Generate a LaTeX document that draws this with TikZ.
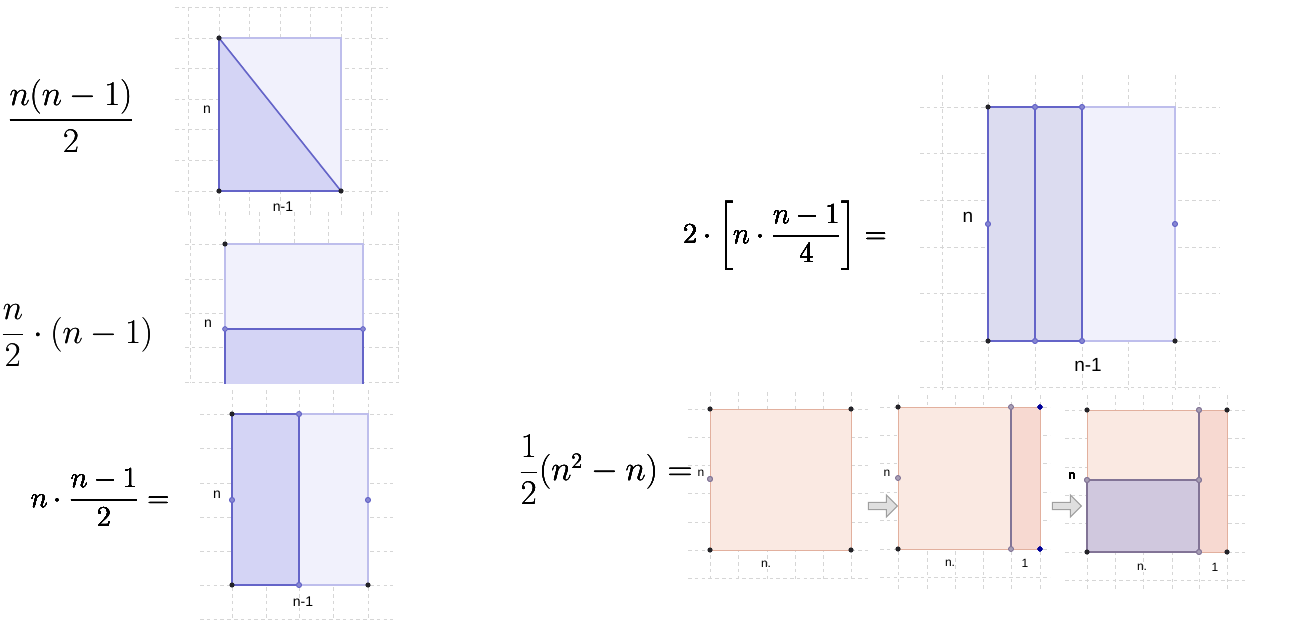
\documentclass[tikz,border=0pt]{standalone}
\usepackage{amsmath}
\usepackage{fontspec}
\usetikzlibrary{shapes.arrows}
\newfontfamily\lblfont{Liberation Sans}
\definecolor{gridgray}{RGB}{214,214,214}
\definecolor{ggpurple}{RGB}{100,100,200}
\definecolor{ggpale}{RGB}{241,241,252}
\definecolor{ggpaleline}{RGB}{190,190,236}
\definecolor{ggmid}{RGB}{212,212,245}
\definecolor{ggmidgray}{RGB}{220,220,240}
\definecolor{peach}{RGB}{250,233,226}
\definecolor{salmon}{RGB}{247,217,209}
\definecolor{peachline}{RGB}{226,176,158}
\definecolor{lavgray}{RGB}{208,200,222}
\definecolor{lavline}{RGB}{130,116,150}
\definecolor{dotblack}{RGB}{35,35,40}
\definecolor{dotpurple}{RGB}{135,135,210}
\tikzset{
  gridline/.style={draw=gridgray, line width=0.4pt, dash pattern=on 1.8pt off 1.6pt},
  palerect/.style={fill=ggpale, draw=ggpaleline, line width=0.6pt},
  midrect/.style={fill=ggmid, draw=ggpurple, line width=0.8pt},
  peachrect/.style={fill=peach, draw=peachline, line width=0.5pt},
  striprect/.style={fill=salmon, draw=peachline, line width=0.5pt},
  lavrect/.style={fill=lavgray, draw=lavline, line width=0.6pt},
  formula/.style={font=\fontsize{15}{18}\selectfont, inner sep=0pt},
  bigformula/.style={formula, font=\fontsize{16.5}{19}\selectfont},
  lbl/.style={font=\lblfont\fontsize{7}{8}\selectfont, inner sep=0pt},
  smalllbl/.style={font=\lblfont\fontsize{6}{7}\selectfont, inner sep=0pt},
  biglbl/.style={font=\lblfont\fontsize{9.5}{11}\selectfont, inner sep=0pt},
  blockarrow/.style={single arrow, draw=gray!75, fill=gray!25, line width=0.5pt,
    minimum height=14.5pt, minimum width=11pt, single arrow head extend=2.5pt, inner sep=1pt},
}
\newcommand{\kdot}[1]{\fill[dotblack] #1 circle[radius=1.3pt];}
\newcommand{\pdot}[1]{\filldraw[fill=dotpurple, draw=ggpurple, line width=0.4pt] #1 circle[radius=1.2pt];}
\newcommand{\gdot}[1]{\filldraw[fill=lavline!70, draw=lavline, line width=0.4pt] #1 circle[radius=1.2pt];}

\begin{document}
\begin{tikzpicture}[x=0.5pt, y=-0.5pt]
  \useasboundingbox (0,0) rectangle (1291,620);

  % left column, triangle
  \foreach \x in {188,219,249,280,310,341,371} \draw[gridline] (\x,7) -- (\x,215);
  \foreach \y in {7,38,68,99,129,160,191} \draw[gridline] (175,\y) -- (388,\y);
  \fill[palerect] (219,38) rectangle (341,191);
  \fill[midrect] (219,38) -- (219,191) -- (341,191) -- cycle;
  \foreach \p in {(219,38),(219,191),(341,191)} \kdot{\p}
  \node[bigformula] (fa) at (71,116) {$\dfrac{n(n-1)}{2}$};
  \node[lbl] (na) at (207,110) {n};
  \node[lbl] (ba) at (283,207) {n-1};

  % left column, half height
  \foreach \x in {190,225,259,294,328,363,398} \draw[gridline] (\x,212) -- (\x,383);
  \foreach \y in {244,279,313,347,382} \draw[gridline] (185,\y) -- (400,\y);
  \fill[palerect] (225,244) rectangle (363,329);
  \fill[ggmid] (225,329) rectangle (363,384);
  \draw[ggpurple, line width=0.8pt] (225,384) -- (225,329) -- (363,329) -- (363,384);
  \kdot{(225,244)}
  \foreach \p in {(225,329),(363,329)} \pdot{\p}
  \node[bigformula, anchor=west] (fb) at (0,336) {$\dfrac{n}{2}\cdot(n-1)$};
  \node[lbl] (nb) at (208,324) {n};

  % left column, half width
  \foreach \x in {232,266,299,333,368} \draw[gridline] (\x,390) -- (\x,620);
  \foreach \y in {414,448,483,517,551,585,619} \draw[gridline] (200,\y) -- (393,\y);
  \fill[palerect] (232,414) rectangle (368,585);
  \fill[midrect] (232,414) rectangle (299,585);
  \foreach \p in {(232,414),(232,585),(368,585)} \kdot{\p}
  \foreach \p in {(299,414),(299,585),(232,500),(368,500)} \pdot{\p}
  \node[formula] (fc) at (100,498) {$n\cdot\dfrac{n-1}{2}=$};
  \node[lbl] (nc) at (217,495) {n};
  \node[lbl] (bc) at (303,602) {n-1};

  % right, two quarter strips
  \foreach \x in {942,988,1035,1082,1128,1175} \draw[gridline] (\x,75) -- (\x,390);
  \foreach \y in {107,153,200,247,293,341,387} \draw[gridline] (920,\y) -- (1220,\y);
  \fill[palerect] (988,107) rectangle (1175,341);
  \fill[midrect, fill=ggmidgray] (988,107) rectangle (1082,341);
  \draw[ggpurple, line width=0.8pt] (1035,107) -- (1035,341);
  \foreach \p in {(988,107),(988,341),(1175,341)} \kdot{\p}
  \foreach \p in {(1035,107),(1082,107),(1035,341),(1082,341),(988,224),(1175,224)} \pdot{\p}
  \node[formula] (fd) at (785,236) {$2\cdot\left[n\cdot\dfrac{n-1}{4}\right]=$};
  \node[biglbl] (nd) at (968,217) {n};
  \node[biglbl] (bd) at (1088,365) {n-1};

  % right, square n by n
  \foreach \x in {710,738,767,795,823,851} \draw[gridline] (\x,392) -- (\x,580);
  \foreach \y in {409,437,465,493,522,550,578} \draw[gridline] (688,\y) -- (868,\y);
  \fill[peachrect] (710,409) rectangle (851,550);
  \foreach \p in {(710,409),(851,409),(710,550),(851,550)} \kdot{\p}
  \gdot{(710,479)}
  \node[formula, font=\fontsize{16}{19}\selectfont, anchor=east] (fe) at (693,470) {$\dfrac{1}{2}(n^2-n)=$};
  \node[smalllbl] (ne) at (701,473) {n};
  \node[smalllbl] (be) at (766,564) {n.};

  \node[blockarrow] (ar1) at (881,506) {};

  % right, square plus strip
  \foreach \x in {898,927,955,983,1011,1040} \draw[gridline] (\x,395) -- (\x,590);
  \foreach \y in {407,435,463,492,520,549,577} \draw[gridline] (880,\y) -- (1050,\y);
  \fill[peachrect] (898,407) rectangle (1011,549);
  \fill[striprect] (1011,407) rectangle (1040,549);
  \draw[lavline, line width=0.8pt] (1011,407) -- (1011,549);
  \foreach \p in {(898,407),(898,549)} \kdot{\p}
  \foreach \p in {(1011,407),(1011,549),(898,478)} \gdot{\p}
  \foreach \p in {(1040,407),(1040,549)} \fill[blue!60!black] \p circle[radius=1.2pt];
  \node[smalllbl] (nf) at (887,473) {n};
  \node[smalllbl] (bf) at (950,563) {n.};
  \node[smalllbl] (of) at (1025,563) {1};

  \node[blockarrow] (ar2) at (1065,506) {};

  % right, half of square plus strip
  \foreach \x in {1087,1115,1143,1172,1199,1227} \draw[gridline] (\x,395) -- (\x,590);
  \foreach \y in {410,438,467,495,523,552,580} \draw[gridline] (1065,\y) -- (1245,\y);
  \fill[peachrect] (1087,410) rectangle (1199,480);
  \fill[striprect] (1199,410) rectangle (1227,552);
  \fill[lavrect] (1087,480) rectangle (1199,552);
  \draw[lavline, line width=0.8pt] (1199,410) -- (1199,552);
  \foreach \p in {(1087,410),(1087,552),(1227,410),(1227,552)} \kdot{\p}
  \foreach \p in {(1199,410),(1199,552),(1199,480),(1087,480)} \gdot{\p}
  \node[smalllbl] (ng) at (1072,476) {n};
  \node[smalllbl] (bg) at (1142,567) {n.};
  \node[smalllbl] (og) at (1215,567) {1};
\end{tikzpicture}
\end{document}
